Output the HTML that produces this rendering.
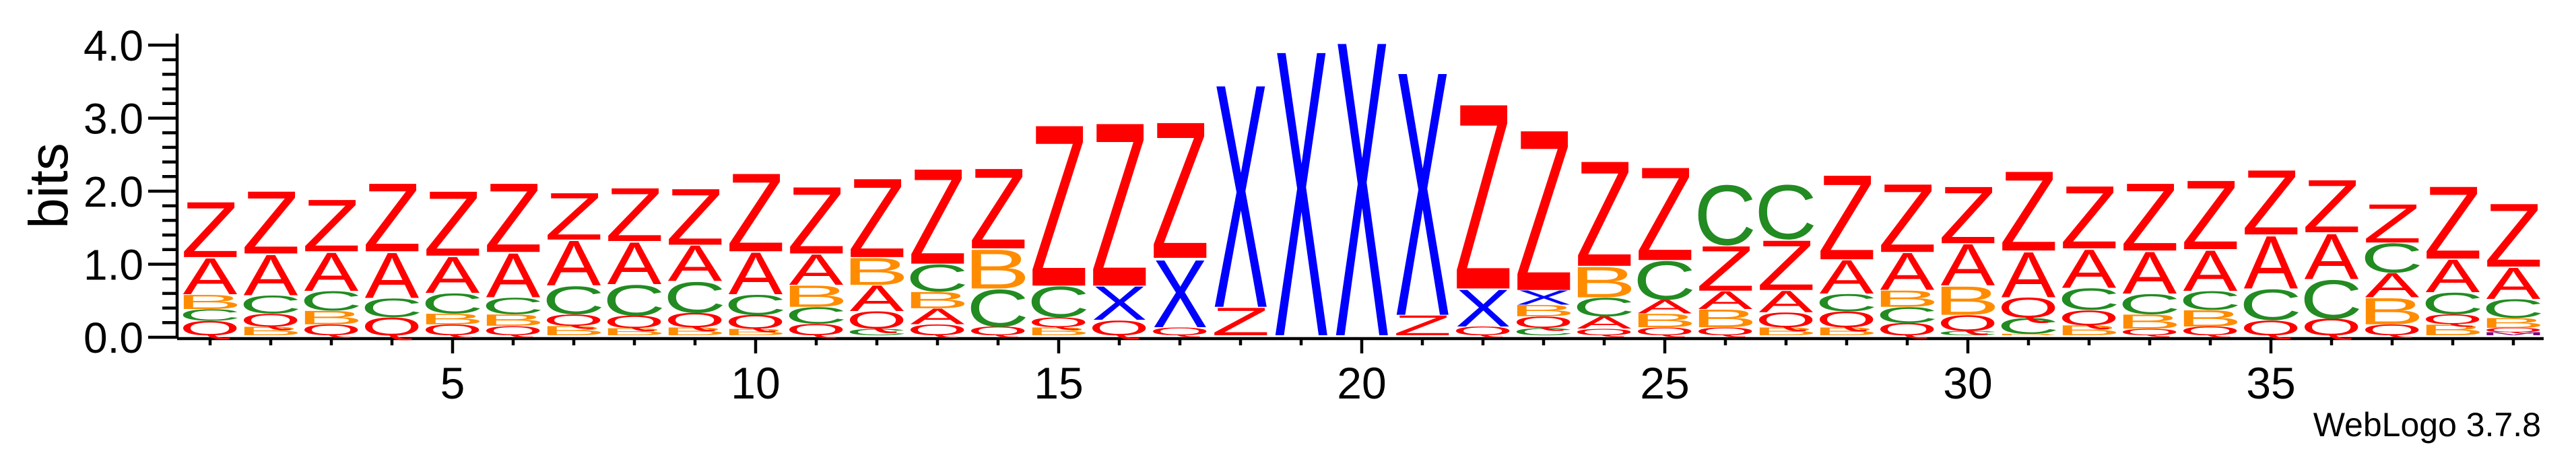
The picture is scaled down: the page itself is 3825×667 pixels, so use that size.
<!DOCTYPE html>
<html><head><meta charset="utf-8"><style>
html,body{margin:0;padding:0;background:#fff;}
svg{display:block;font-family:"Liberation Sans",Arial,sans-serif;}
</style></head><body>
<svg id="logo" width="3825" height="667" viewBox="0 0 3825 667" xmlns="http://www.w3.org/2000/svg">
<g id="axes"></g>
<g id="stacks"></g>
<text x="0" y="0" font-size="82" text-anchor="middle" transform="translate(100,276) rotate(-90)">bits</text>
<text x="3773" y="648" font-size="50" text-anchor="end">WebLogo 3.7.8</text>
</svg>
<script>
const letters = [
"QCBAZ","BQCAZ","QBCAZ","QCAZ","QBCAZ","QBCAZ","BQCAZ","BQCAZ","BQCAZ","BQCAZ",
"QCBAZ","CQABZ","QABCZ","QCBZ","BQCZ","QXZ","QXZ","ZX","X","X",
"ZX","QXZ","CQBXZ","QACBZ","QBACZ","QBAZC","BQAZC","BQCAZ","QCBAZ","CQBAZ",
"BCQAZ","BQCAZ","QBCAZ","QBCAZ","QCAZ","QCAZ","QBACZ","BQCAZ","MQBCAZ"];
const heights = [
[.20,.16,.20,.51,.78],[.12,.18,.25,.57,.88],[.15,.19,.27,.54,.73],[.25,.26,.64,.96],[.15,.15,.28,.51,.91],
[.13,.16,.23,.62,.97],[.13,.16,.39,.63,.66],[.10,.17,.43,.59,.75],[.11,.20,.43,.50,.79],[.09,.19,.28,.59,1.10],
[.16,.23,.30,.43,.94],[.09,.24,.36,.38,1.11],[.15,.22,.23,.38,1.34],[.12,.52,.55,1.13],[.11,.14,.43,2.27],
[.21,.47,2.30],[.11,.95,1.92],[.39,3.14],[4.02],[4.15],
[.28,3.43],[.12,.52,2.61],[.10,.16,.16,.20,2.26],[.09,.17,.26,.43,1.48],[.11,.19,.19,.54,1.31],
[.11,.25,.25,.63,.84],[.11,.21,.30,.70,.76],[.11,.22,.24,.47,1.19],[.17,.22,.23,.52,.96],[.06,.22,.40,.58,.80],
[.02,.22,.28,.64,1.12],[.14,.21,.30,.54,.88],[.09,.20,.28,.59,.95],[.12,.23,.26,.57,.97],[.21,.43,.74,.91],
[.23,.54,.64,.74],[.15,.37,.34,.41,.54],[.15,.14,.30,.46,1.02],[.04,.06,.14,.26,.44,.89]];
const yTicks = ["0.0","1.0","2.0","3.0","4.0"];
const xLabels = [5,10,15,20,25,30,35];

const NS="http://www.w3.org/2000/svg";
const X0=312, DX=90, Y0=501, PPB=108.5, COLW=81, OFF=3, AX=263;
const xs = i => X0 + (i-1)*DX;
const ys = b => Y0 - OFF - b*PPB;
const colors={Z:"#ff0000",A:"#ff0000",Q:"#ff0000",C:"#228b22",B:"#ff8c00",X:"#0000ff",M:"#800080"};
const ink={Z:[20,568],A:[-1,670],B:[73,544],C:[49,631],Q:[43,697],X:[4,656],M:[74,685]};
function mk(tag,attrs){const e=document.createElementNS(NS,tag);for(const k in attrs)e.setAttribute(k,attrs[k]);return e;}

const axes=document.getElementById('axes');
let l=mk('line',{x1:AX,y1:503,x2:AX,y2:50,stroke:'#000','stroke-width':4.5});


axes.appendChild(l);
for(let k=0;k<=20;k++){
  const y=Y0-k*0.2*PPB; const major=k%5===0;
  const t=mk('line',{x1:major?220:241,y1:y,x2:AX,y2:y,stroke:'#000','stroke-width':4.5});
  
  
  axes.appendChild(t);
}
yTicks.forEach((s,k)=>{
  const t=mk('text',{x:213,y:Y0-k*PPB+23,'font-size':64,'text-anchor':'end'});
  t.textContent=s;
  
  
  axes.appendChild(t);
});
l=mk('line',{x1:AX,y1:503,x2:3777,y2:503,stroke:'#000','stroke-width':4.5});


axes.appendChild(l);
for(let i=1;i<=letters.length;i++){
  const major=i%5===0;
  const t=mk('line',{x1:xs(i),y1:503,x2:xs(i),y2:major?525:513,stroke:'#000','stroke-width':4.5});
  
  
  axes.appendChild(t);
}
xLabels.forEach(v=>{
  const t=mk('text',{x:xs(v),y:592,'font-size':66,'text-anchor':'middle'});
  t.textContent=String(v);
  
  
  axes.appendChild(t);
});
const stacks=document.getElementById('stacks');
letters.forEach((seq,ci)=>{
  const g=mk('g',{});
  
  
  let cum=0;
  const hs=heights[ci];
  for(let j=0;j<seq.length;j++){
    const ch=seq[j], h=hs[j];
    const bot=ys(cum), top=ys(cum+h);
    cum+=h;
    const hpx=bot-top; if(hpx<=0.5) continue;
    const [lsb,w]=ink[ch];
    const sx=COLW/(w/10), sy=hpx/71.6;
    const left=xs(ci+1)-COLW/2 - (lsb/10)*sx;
    const t=mk('text',{x:0,y:0,'font-size':100,fill:colors[ch],
      transform:`translate(${left.toFixed(2)},${bot.toFixed(2)}) scale(${sx.toFixed(4)},${sy.toFixed(4)})`});
    t.textContent=ch;
    
    
    g.appendChild(t);
  }
  stacks.appendChild(g);
});
</script>
</body></html>
